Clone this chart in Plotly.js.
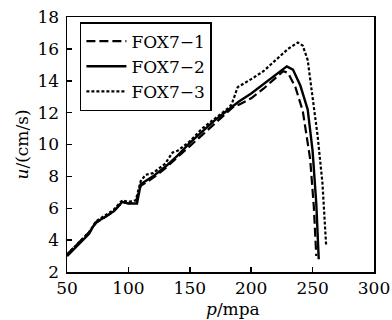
<!DOCTYPE html>
<html>
<head>
<meta charset="utf-8">
<script src="https://cdn.plot.ly/plotly-3.0.1.min.js"></script>
<style>html,body{margin:0;padding:0;background:#fff}#chart{width:392px;height:320px}</style>
</head>
<body>
<div id="chart"></div>
<script>
const seriesNames = ["FOX7\u22121", "FOX7\u22122", "FOX7\u22123"];

const p1 = [50, 60, 68, 74, 80, 88, 95, 100, 106, 110, 120, 130, 140, 150, 160, 170, 180, 186, 190, 200, 210, 220, 226, 230, 236, 242, 248, 251, 253];
const u1 = [3.1, 3.9, 4.5, 5.1, 5.4, 5.8, 6.4, 6.3, 6.4, 7.4, 7.9, 8.5, 9.2, 9.9, 10.6, 11.3, 12.0, 12.4, 12.5, 12.9, 13.5, 14.2, 14.6, 14.5, 13.6, 12.1, 9.1, 6.1, 3.0];

const p2 = [50, 60, 68, 73, 80, 88, 95, 100, 107, 110, 120, 130, 140, 150, 160, 170, 180, 190, 200, 210, 220, 229, 234, 240, 246, 250, 253, 255];
const u2 = [3.0, 3.8, 4.4, 5.1, 5.4, 5.8, 6.4, 6.3, 6.3, 7.5, 8.0, 8.6, 9.3, 10.1, 10.8, 11.5, 12.1, 12.7, 13.2, 13.8, 14.4, 14.9, 14.7, 13.7, 12.2, 9.6, 6.3, 2.8];

const p3 = [50, 60, 68, 74, 80, 88, 95, 100, 106, 110, 114, 120, 130, 136, 140, 150, 160, 170, 180, 184, 189, 200, 210, 220, 230, 238, 242, 246, 250, 254, 258, 261];
const u3 = [3.1, 3.9, 4.5, 5.2, 5.5, 5.9, 6.5, 6.4, 6.5, 7.7, 8.1, 8.2, 8.8, 9.5, 9.6, 10.2, 11.0, 11.6, 12.2, 12.5, 13.6, 14.1, 14.6, 15.3, 16.0, 16.4, 16.2, 15.3, 13.1, 10.6, 7.6, 3.7];

const xTicks = [50, 100, 150, 200, 250, 300];
const yTicks = [2, 4, 6, 8, 10, 12, 14, 16, 18];
const xTitle = "<i>p</i>/mpa";
const yTitle = "<i>u</i>/(cm/s)";

const font = "DejaVu Serif";

const traces = [
  {x: p1, y: u1, name: seriesNames[0], mode: "lines", line: {color: "#000", width: 2.2, dash: "9px,4px"}},
  {x: p2, y: u2, name: seriesNames[1], mode: "lines", line: {color: "#000", width: 2.4}},
  {x: p3, y: u3, name: seriesNames[2], mode: "lines", line: {color: "#000", width: 2.2, dash: "3px,2px"}}
];

const layout = {
  width: 392, height: 320,
  margin: {l: 67, r: 18, t: 17, b: 48},
  paper_bgcolor: "#fff", plot_bgcolor: "#fff",
  font: {family: font, size: 17, color: "#000"},
  showlegend: true,
  legend: {
    x: 0.042, y: 0.98, xanchor: "left", yanchor: "top",
    bordercolor: "#000", borderwidth: 1.5, bgcolor: "#fff",
    font: {family: font, size: 17, color: "#000"},
    tracegroupgap: 0, itemwidth: 40
  },
  xaxis: {
    range: [50, 300], tickvals: xTicks, ticktext: xTicks.map(String),
    ticks: "inside", ticklen: 5, tickwidth: 1.5, tickcolor: "#000",
    showline: true, linecolor: "#000", linewidth: 1.5, mirror: true,
    showgrid: false, zeroline: false, ticklabelstandoff: 0,
    tickfont: {family: font, size: 17, color: "#000"}
  },
  yaxis: {
    range: [2, 18], tickvals: yTicks, ticktext: yTicks.map(String),
    ticks: "inside", ticklen: 5, tickwidth: 1.5, tickcolor: "#000",
    showline: true, linecolor: "#000", linewidth: 1.5, mirror: true,
    showgrid: false, zeroline: false, ticklabelstandoff: 3,
    tickfont: {family: font, size: 17, color: "#000"},
    title: {text: yTitle, font: {family: font, size: 17, color: "#000"}, standoff: 4}
  },
  annotations: [{
    text: xTitle, xref: "paper", yref: "paper", x: 0.54, y: -0.145,
    xanchor: "center", yanchor: "middle", showarrow: false,
    font: {family: font, size: 17, color: "#000"}
  }]
};

Plotly.newPlot("chart", traces, layout, {staticPlot: true, displayModeBar: false});
</script>
</body>
</html>
